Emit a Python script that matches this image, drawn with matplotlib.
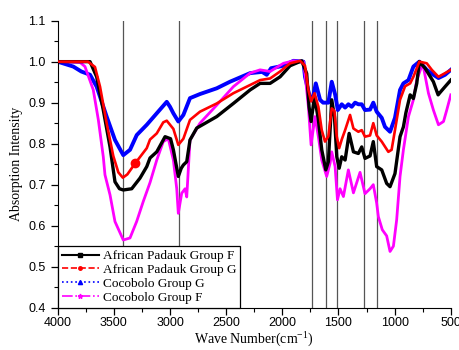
import numpy as np
import matplotlib
matplotlib.use('Agg')
from matplotlib import pyplot as plt
from matplotlib.lines import Line2D
from matplotlib.ticker import MultipleLocator

# African Padauk Group F
w_apf = [4000, 3800, 3712, 3653, 3594, 3534, 3490, 3450, 3416, 3341, 3267, 3207, 3178, 3118, 3044,
         2995, 2970, 2926, 2900, 2881, 2851, 2822, 2762, 2584, 2436, 2287, 2198, 2109, 2020, 1931,
         1827, 1783, 1762, 1744, 1713, 1679, 1649, 1613, 1590, 1560, 1536, 1515, 1494, 1471, 1441,
         1405, 1367, 1323, 1293, 1264, 1219, 1190, 1160, 1115, 1071, 1041, 997, 952, 922, 900,
         862, 833, 803, 780, 729, 655, 613, 595, 551, 500]
v_apf = [1.0, 1.0, 1.0, 0.963, 0.882, 0.792, 0.707, 0.69, 0.687, 0.69, 0.716, 0.744, 0.765, 0.78, 0.817,
         0.812, 0.785, 0.72, 0.74, 0.748, 0.756, 0.809, 0.838, 0.866, 0.898, 0.931, 0.947, 0.947, 0.963, 0.99,
         1.002, 0.971, 0.89, 0.854, 0.915, 0.858, 0.785, 0.736, 0.756, 0.907, 0.866, 0.768, 0.74, 0.768, 0.76,
         0.825, 0.78, 0.776, 0.792, 0.764, 0.77, 0.805, 0.744, 0.736, 0.703, 0.695, 0.727, 0.817, 0.841, 0.875,
         0.919, 0.91, 0.947, 1.0, 0.984, 0.951, 0.919, 0.925, 0.939, 0.955]

# African Padauk Group G
w_apg = [4000, 3730, 3668, 3623, 3564, 3505, 3460, 3420, 3380, 3310, 3207, 3178, 3118, 3060, 3029,
         2970, 2926, 2881, 2822, 2733, 2584, 2436, 2287, 2198, 2109, 2020, 1931, 1842, 1798, 1768,
         1744, 1713, 1679, 1649, 1620, 1590, 1560, 1536, 1515, 1494, 1471, 1441, 1397, 1367, 1323,
         1293, 1264, 1219, 1190, 1160, 1115, 1056, 1027, 997, 952, 907, 862, 833, 780, 714,
         669, 610, 551, 500]
v_apg = [1.0, 1.0, 0.987, 0.939, 0.85, 0.77, 0.73, 0.717, 0.725, 0.752, 0.789, 0.81, 0.825, 0.852, 0.856,
         0.836, 0.797, 0.812, 0.858, 0.878, 0.898, 0.923, 0.943, 0.955, 0.959, 0.976, 0.996, 1.002, 0.99, 0.931,
         0.903, 0.923, 0.89, 0.833, 0.805, 0.818, 0.886, 0.88, 0.817, 0.789, 0.81, 0.833, 0.87, 0.837, 0.829,
         0.833, 0.817, 0.82, 0.85, 0.82, 0.805, 0.78, 0.785, 0.833, 0.907, 0.94, 0.947, 0.963, 1.0, 0.996,
         0.98, 0.963, 0.972, 0.98]

# Cocobolo Group G
w_cg = [4000, 3861, 3790, 3712, 3653, 3564, 3490, 3416, 3356, 3296, 3207, 3118, 3029, 3000, 2970,
        2926, 2881, 2822, 2733, 2584, 2466, 2287, 2180, 2139, 2100, 1990, 1901, 1812, 1798, 1753,
        1733, 1702, 1664, 1637, 1590, 1560, 1530, 1506, 1471, 1441, 1412, 1382, 1352, 1323, 1293,
        1264, 1219, 1190, 1160, 1115, 1086, 1041, 997, 952, 922, 877, 833, 780, 714, 655,
        610, 551, 500]
v_cg = [1.0, 0.988, 0.976, 0.968, 0.939, 0.866, 0.809, 0.772, 0.785, 0.821, 0.846, 0.874, 0.902, 0.89, 0.874,
        0.854, 0.87, 0.911, 0.921, 0.935, 0.951, 0.972, 0.975, 0.968, 0.984, 0.99, 1.002, 1.0, 0.963, 0.911,
        0.905, 0.947, 0.907, 0.9, 0.9, 0.951, 0.92, 0.882, 0.896, 0.888, 0.896, 0.89, 0.9, 0.896, 0.896,
        0.882, 0.883, 0.9, 0.878, 0.863, 0.841, 0.829, 0.863, 0.931, 0.947, 0.955, 0.988, 1.0, 0.98, 0.968,
        0.96, 0.968, 0.98]

# Cocobolo Group F
w_cf = [4000, 3800, 3757, 3683, 3638, 3594, 3579, 3534, 3490, 3416, 3356, 3297, 3238, 3178, 3118,
        3060, 3015, 2970, 2940, 2926, 2896, 2866, 2851, 2822, 2733, 2584, 2436, 2287, 2198, 2109,
        1990, 1901, 1812, 1798, 1768, 1744, 1709, 1679, 1649, 1605, 1575, 1560, 1530, 1509, 1486,
        1456, 1412, 1367, 1308, 1264, 1219, 1190, 1160, 1145, 1110, 1071, 1041, 1011, 982, 952,
        922, 877, 833, 803, 750, 699, 655, 610, 565, 536, 500]
v_cf = [1.0, 0.998, 0.988, 0.931, 0.858, 0.768, 0.724, 0.675, 0.61, 0.565, 0.57, 0.61, 0.659, 0.705, 0.76,
        0.805, 0.812, 0.76, 0.69, 0.63, 0.679, 0.69, 0.67, 0.809, 0.85, 0.894, 0.939, 0.972, 0.98, 0.976,
        0.996, 1.002, 1.0, 0.971, 0.89, 0.797, 0.866, 0.817, 0.76, 0.72, 0.752, 0.78, 0.744, 0.663, 0.69,
        0.671, 0.736, 0.68, 0.73, 0.678, 0.69, 0.7, 0.655, 0.622, 0.59, 0.575, 0.537, 0.55, 0.614, 0.72,
        0.785, 0.866, 0.907, 0.955, 0.996, 0.923, 0.882, 0.846, 0.854, 0.882, 0.919]

peaks = [3420, 2920, 1740, 1610, 1510, 1270, 1160]

names = ['African Padauk Group F', 'African Padauk Group G', 'Cocobolo Group G', 'Cocobolo Group F']

fig = plt.figure(figsize=(4.6, 3.5), dpi=100)
ax = fig.add_axes([0.1254, 0.121, 0.8546, 0.82])

for p in peaks:
    ax.axvline(p, color='#555555', lw=0.9, zorder=1)

ax.plot(w_apf, v_apf, color='black', lw=2.4, zorder=3)
ax.plot(w_apg, v_apg, color='red', lw=1.9, zorder=3,
        marker='o', ms=6, markevery=[w_apg.index(3310)])
ax.plot(w_cg, v_cg, color='blue', lw=2.8, zorder=2)
ax.plot(w_cf, v_cf, color='magenta', lw=2.0, zorder=2)

ax.set_xlim(4000, 500)
ax.set_ylim(0.4, 1.1)
ax.xaxis.set_major_locator(MultipleLocator(500))
ax.xaxis.set_minor_locator(MultipleLocator(250))
ax.yaxis.set_major_locator(MultipleLocator(0.1))
ax.yaxis.set_minor_locator(MultipleLocator(0.05))
ax.tick_params(which='major', direction='out', length=5, width=0.9, labelsize=9)
ax.tick_params(which='minor', direction='out', length=3, width=0.8)
ax.tick_params(axis='x', which='major', pad=1.5)
for lab in ax.get_xticklabels() + ax.get_yticklabels():
    lab.set_family('Liberation Sans')
ax.spines['top'].set_visible(False)
ax.spines['right'].set_visible(False)

ax.set_xlabel('Wave Number(cm$^{\\mathregular{-1}}$)', family='Liberation Serif', fontsize=10)
ax.xaxis.set_label_coords(0.5, -0.14, transform=ax.transAxes)
ax.xaxis.label.set_va('bottom')
ax.set_ylabel('Absorption Intensity', family='Liberation Serif', fontsize=10, labelpad=4)

handles = [
    Line2D([], [], color='black', lw=1.5, ls='-', marker='s', ms=2.5),
    Line2D([], [], color='red', lw=1.2, ls='--', marker='o', ms=2.5),
    Line2D([], [], color='blue', lw=1.2, ls=':', marker='^', ms=3),
    Line2D([], [], color='magenta', lw=1.2, ls='-.', marker='*', ms=3.5),
]
leg = ax.legend(handles, names, loc='lower left', bbox_to_anchor=(0, 0), borderaxespad=0,
                fancybox=False, framealpha=1, edgecolor='black',
                prop={'family': 'Liberation Serif', 'size': 9.5},
                handlelength=2.8, handletextpad=0.3, labelspacing=0.12, borderpad=0.3)
leg.get_frame().set_linewidth(0.9)
leg.set_zorder(5)

fig.savefig('out.png', dpi=100)
